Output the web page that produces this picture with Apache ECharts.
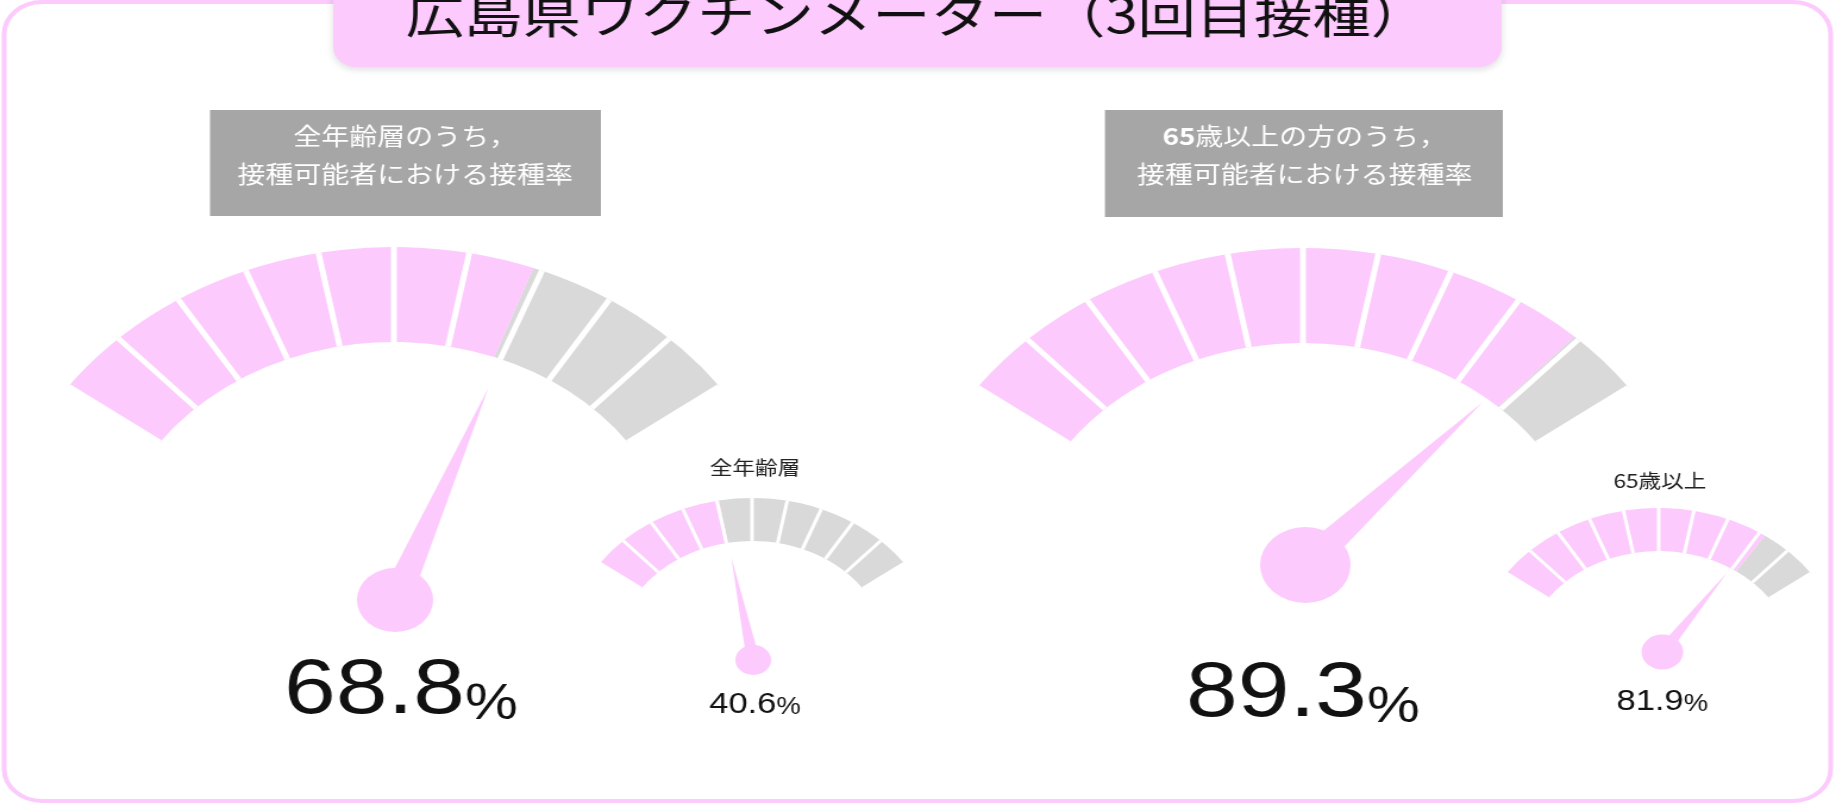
<!DOCTYPE html>
<html>
<head>
<meta charset="utf-8">
<script src="https://cdn.jsdelivr.net/npm/echarts@6/dist/echarts.min.js"></script>
<style>
html,body{margin:0;padding:0;background:#fff;overflow:hidden;width:1836px;height:807px}
#wrap{width:1836px;height:807px;overflow:hidden}
#c{width:1543px;height:807px;transform:scaleX(1.1899);transform-origin:0 0}
</style>
</head>
<body>
<div id="wrap"><div id="c"></div></div>
<script>
// ---- data ----
const chartTitle = '広島県ワクチンメーター（3回目接種）';
const boxLine1 = ['全年齢層のうち，', '{b|65}{n|歳以上の方のうち，}'];
const boxLine2 = ['接種可能者における接種率', '接種可能者における接種率'];
const gaugeLabels = ['', '全年齢層', '', '65歳以上'];
const gaugeValues = [68.8, 40.6, 89.3, 81.9];
const scaleMin = 0;
const scaleMax = 100;
const segmentCount = 10;

// ---- style / layout ----
const PINK = '#fccafc';
const GRAY = '#d9d9d9';
const BOXGRAY = '#a6a6a6';
const JP = '"Noto Sans CJK JP", sans-serif';
const NUM = '"Liberation Sans", Arial, sans-serif';
const START = 144, END = 36;

const layout = [
  {c:[331,585], r:338, w:95, gap:5, pivot:[332,600], pl:226, pw:26, anchor:64, detail:[6,105], big:true},
  {c:[632,656], r:158, w:43, gap:3, pivot:[633,660], pl:104, pw:11, anchor:30, detail:[2.5,47], title:[2.5,-188]},
  {c:[1095,586], r:338, w:95, gap:5, pivot:[1097,565], pl:220, pw:28, anchor:76, detail:[0,107], big:true},
  {c:[1394,666], r:158, w:43, gap:3, pivot:[1397,652], pl:96, pw:11, anchor:35, detail:[3,34], title:[1,-185]}
];
const boxes = [
  {x:176.5, y:110, w:328.5, h:106, cx:340.5},
  {x:928.6, y:110, w:334.4, h:107, cx:1096.5}
];

const series = [];
gaugeValues.forEach((v, i) => {
  const L = layout[i];
  const tok = (fs, lh) => ({fontSize:fs, lineHeight:lh, fontFamily:NUM, fontWeight:'normal', color:'#111', verticalAlign:'bottom'});
  const nRich = L.big ? {n:tok(78, 80), p:tok(50, 60.6)} : {n:tok(29, 32), p:tok(23, 27.8)};
  series.push({
    type:'gauge', center:L.c, radius:L.r, startAngle:START, endAngle:END,
    min:scaleMin, max:scaleMax, splitNumber:segmentCount,
    axisLine:{lineStyle:{width:L.w, color:[[(v-scaleMin)/(scaleMax-scaleMin), PINK],[1, GRAY]]}},
    splitLine:{show:true, distance:-L.w, length:L.w, lineStyle:{color:'#fff', width:L.gap}},
    axisTick:{show:false}, axisLabel:{show:false},
    pointer:{show:false}, anchor:{show:false}, progress:{show:false},
    title:{show:!!gaugeLabels[i], offsetCenter:L.title || [0,0], fontSize:19, fontFamily:JP, fontWeight:'normal', color:'#222'},
    detail:{show:true, offsetCenter:L.detail, valueAnimation:false, fontWeight:'normal',
      formatter: val => '{n|' + val.toFixed(1) + '}{p|%}', rich:nRich},
    data:[{value:v, name:gaugeLabels[i]}]
  });
  series.push({
    type:'gauge', center:L.pivot, radius:L.r, startAngle:START, endAngle:END,
    min:scaleMin, max:scaleMax, splitNumber:segmentCount,
    axisLine:{show:false}, splitLine:{show:false}, axisTick:{show:false}, axisLabel:{show:false},
    progress:{show:false},
    pointer:{show:true, icon:'triangle', length:L.pl, width:L.pw, itemStyle:{color:PINK}},
    anchor:{show:true, showAbove:true, size:L.anchor, itemStyle:{color:PINK}},
    title:{show:false}, detail:{show:false},
    data:[{value:v}]
  });
});

const graphic = [
  {type:'rect', z:-10, shape:{x:3.5, y:2, width:1535, height:799, r:32},
   style:{fill:'#fff', stroke:PINK, lineWidth:4}},
  {type:'rect', z:10, shape:{x:280, y:-30, width:982, height:97, r:20},
   style:{fill:PINK, shadowBlur:6, shadowOffsetY:3, shadowColor:'rgba(0,0,0,0.12)'}},
  {type:'text', z:11, style:{text:chartTitle, x:771, y:14, align:'center', verticalAlign:'middle',
   fontSize:49, fontFamily:JP, fill:'#111'}}
];
boxes.forEach((b, i) => {
  graphic.push({type:'rect', z:5, shape:{x:b.x, y:b.y, width:b.w, height:b.h},
    style:{fill:BOXGRAY}});
  graphic.push({type:'text', z:6, style:{text:boxLine1[i], x:b.cx, y:136, align:'center', verticalAlign:'middle',
    fontSize:23.5, fontFamily:JP, fill:'#fff',
    rich:{b:{fontSize:23.5, fontWeight:'bold', fontFamily:JP, fill:'#fff', color:'#fff'},
          n:{fontSize:23.5, fontFamily:JP, fill:'#fff', color:'#fff'}}}});
  graphic.push({type:'text', z:6, style:{text:boxLine2[i], x:b.cx, y:174, align:'center', verticalAlign:'middle',
    fontSize:23.5, fontFamily:JP, fill:'#fff'}});
});

const chart = echarts.init(document.getElementById('c'), null, {renderer:'canvas'});
chart.setOption({animation:false, backgroundColor:'#fff', graphic:graphic, series:series});
</script>
</body>
</html>
